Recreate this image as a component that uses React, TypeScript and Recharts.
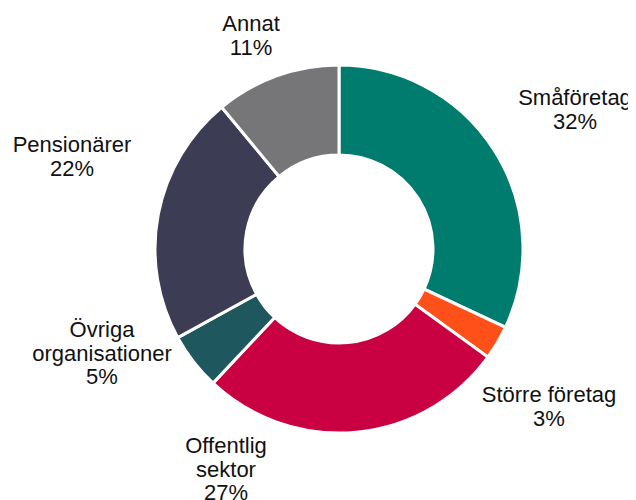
import { PieChart, Pie, Cell } from 'recharts';

const categories = ['Småföretag', 'Större företag', 'Offentlig sektor', 'Övriga organisationer', 'Pensionärer', 'Annat'];
const labelLines = [['Småföretag'], ['Större företag'], ['Offentlig', 'sektor'], ['Övriga', 'organisationer'], ['Pensionärer'], ['Annat']];
const shares = [32, 3, 27, 5, 22, 11];

const COLORS = ['#007C6E', '#FF5019', '#C90042', '#1F575F', '#3C3C55', '#767678'];

// label anchor relative to pie centre (first baseline)
const LABEL_OFFSETS = [
  [236, -144],
  [210, 153],
  [-113, 204],
  [-237, 88],
  [-267, -97],
  [-88, -218],
];

const data = categories.map((name, i) => ({ name, value: shares[i] }));

function renderLabel(props: any) {
  const { cx, cy, index } = props;
  const [dx, dy] = LABEL_OFFSETS[index];
  const lines = [...labelLines[index], `${shares[index]}%`];
  const x = Number(cx) + dx;
  const y = Number(cy) + dy;
  return (
    <text
      x={x}
      y={y}
      textAnchor="middle"
      fill="#111"
      fontSize={22}
      fontFamily="'Liberation Sans', Arial, sans-serif"
    >
      {lines.map((l, i) => (
        <tspan key={i} x={x} dy={i === 0 ? 0 : 23.5}>
          {l}
        </tspan>
      ))}
    </text>
  );
}

export default function App() {
  return (
    <PieChart width={628} height={492}>
      <Pie
        data={data}
        dataKey="value"
        nameKey="name"
        cx={326}
        cy={236}
        innerRadius={94}
        outerRadius={184}
        startAngle={90}
        endAngle={-270}
        stroke="#fff"
        strokeWidth={3}
        label={renderLabel}
        labelLine={false}
        isAnimationActive={false}
      >
        {data.map((d, i) => (
          <Cell key={d.name} fill={COLORS[i]} />
        ))}
      </Pie>
    </PieChart>
  );
}
